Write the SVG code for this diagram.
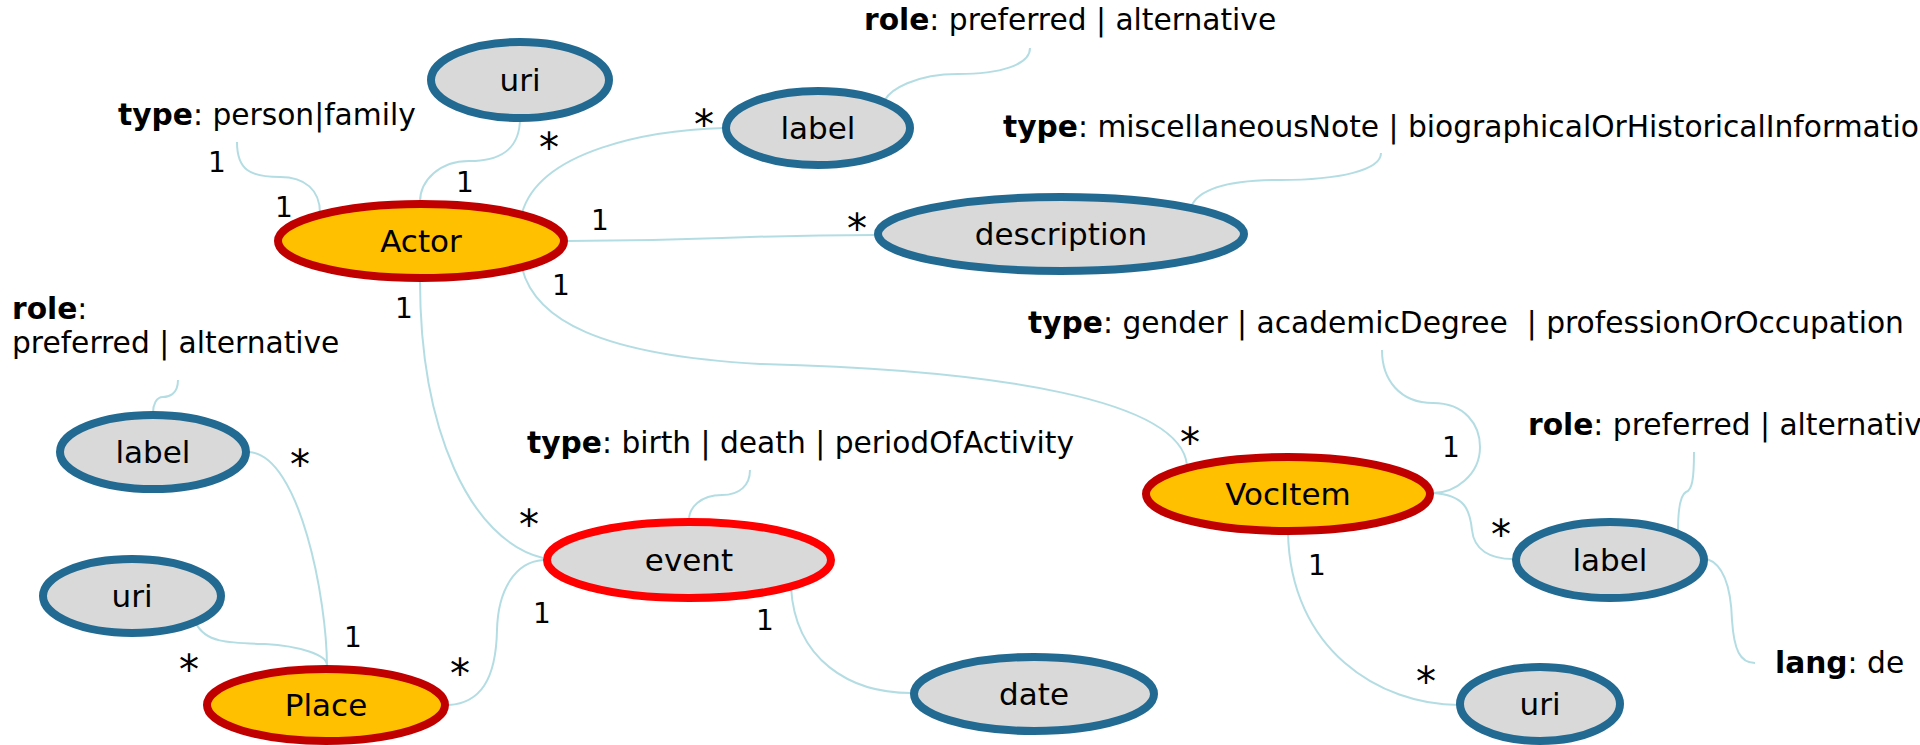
<svg xmlns="http://www.w3.org/2000/svg" width="1920" height="745" viewBox="0 0 1920 745">
<style>
.n ellipse{fill:#d9d9d9;stroke:#226a91;stroke-width:8}
.c ellipse{fill:#ffc000;stroke:#c00000;stroke-width:8}
.e ellipse{fill:#d9d9d9;stroke:#ff0000;stroke-width:8}
.nl{font-family:"DejaVu Sans",Verdana,sans-serif;font-size:31px;fill:#000;text-anchor:middle}
.a{font-family:"DejaVu Sans",Verdana,sans-serif;font-size:29.7px;fill:#000;white-space:pre}
.a tspan.b{font-weight:bold}
.m{font-family:"DejaVu Sans",Verdana,sans-serif;font-size:28px;fill:#000;text-anchor:middle}
.s{font-family:"DejaVu Sans",Verdana,sans-serif;font-size:40px;fill:#000;text-anchor:middle}
#connectors path{fill:none;stroke:#b4dde3;stroke-width:2}
</style>
<rect width="1920" height="745" fill="#fff"/>
<g id="connectors">
<path d="M237,142 C237,170 250,177 280,177 C305,177 320,190 320,213"/>
<path d="M520,118 C520,150 500,161 469,161 C440,161 420,180 420,202"/>
<path d="M522,213 C540,150 650,130 724,128"/>
<path d="M1030,48 C1030,65 1000,74 958,74 C915,74 890,90 885,100"/>
<path d="M568,241 C722,241 722,235 877,235"/>
<path d="M1191,207 C1200,185 1240,180 1280,180 C1340,180 1381,170 1381,153"/>
<path d="M522,268 C535,320 600,355 760,364 C1000,370 1180,400 1187,465"/>
<path d="M420,280 C420,430 470,540 543,558"/>
<path d="M178,380 C178,395 168,397 163,397 C156,397 153,405 153,413"/>
<path d="M249,452 C300,455 327,600 327,667"/>
<path d="M196,623 C205,643 230,643 265,644 C300,646 327,655 327,665"/>
<path d="M449,705 C480,703 496,680 497,630 C498,590 515,562 543,560"/>
<path d="M750,470 C750,485 740,495 722,495 C700,495 689,508 689,520"/>
<path d="M791,587 C795,660 850,693 911,693"/>
<path d="M1382,350 C1382,380 1400,403 1433,403 C1465,403 1480,425 1480,447 C1480,475 1455,493 1433,493"/>
<path d="M1433,493 C1465,495 1470,510 1472,530 C1474,550 1490,559 1513,559"/>
<path d="M1694,452 C1694,480 1692,490 1686,492 C1680,495 1678,510 1678,532"/>
<path d="M1707,559 C1725,565 1731,590 1732,620 C1734,650 1740,663 1755,663"/>
<path d="M1288,532 C1290,650 1380,705 1459,705"/>
</g>
<g id="uri-actor" class="n"><ellipse cx="520" cy="80" rx="89" ry="38"/><text class="nl" x="520" y="91">uri</text></g>
<g id="actor" class="c"><ellipse cx="421" cy="241" rx="143" ry="37"/><text class="nl" x="421" y="252">Actor</text></g>
<g id="label-actor" class="n"><ellipse cx="818" cy="128" rx="92" ry="37"/><text class="nl" x="818" y="139">label</text></g>
<g id="description" class="n"><ellipse cx="1061" cy="234" rx="183" ry="37"/><text class="nl" x="1061" y="245">description</text></g>
<g id="label-place" class="n"><ellipse cx="153" cy="452" rx="93" ry="37"/><text class="nl" x="153" y="463">label</text></g>
<g id="uri-place" class="n"><ellipse cx="132" cy="596" rx="89" ry="37"/><text class="nl" x="132" y="607">uri</text></g>
<g id="place" class="c"><ellipse cx="326" cy="705" rx="119" ry="36"/><text class="nl" x="326" y="716">Place</text></g>
<g id="event" class="e"><ellipse cx="689" cy="560" rx="142" ry="38"/><text class="nl" x="689" y="571">event</text></g>
<g id="date" class="n"><ellipse cx="1034" cy="694" rx="120" ry="37"/><text class="nl" x="1034" y="705">date</text></g>
<g id="vocitem" class="c"><ellipse cx="1288" cy="494" rx="142" ry="37"/><text class="nl" x="1288" y="505">VocItem</text></g>
<g id="label-voc" class="n"><ellipse cx="1610" cy="560" rx="94" ry="38"/><text class="nl" x="1610" y="571">label</text></g>
<g id="uri-voc" class="n"><ellipse cx="1540" cy="704" rx="80" ry="37"/><text class="nl" x="1540" y="715">uri</text></g>
<g id="annotations">
<text class="a" x="118" y="125"><tspan class="b">type</tspan>: person|family</text>
<text class="a" x="864" y="30"><tspan class="b">role</tspan>: preferred | alternative</text>
<text class="a" x="1003" y="137"><tspan class="b">type</tspan>: miscellaneousNote | biographicalOrHistoricalInformation</text>
<text class="a" x="12" y="319"><tspan class="b">role</tspan>:</text>
<text class="a" x="12" y="353">preferred | alternative</text>
<text class="a" x="527" y="453"><tspan class="b">type</tspan>: birth | death | periodOfActivity</text>
<text class="a" x="1028" y="333"><tspan class="b">type</tspan>: gender | academicDegree  | professionOrOccupation</text>
<text class="a" x="1528" y="435"><tspan class="b">role</tspan>: preferred | alternative</text>
<text class="a" x="1775" y="673"><tspan class="b">lang</tspan>: de</text>
</g>
<g id="multiplicities">
<text class="m" x="217" y="172">1</text>
<text class="m" x="284" y="217">1</text>
<text class="s" x="549" y="162">*</text>
<text class="m" x="465" y="192">1</text>
<text class="m" x="600" y="230">1</text>
<text class="m" x="561" y="295">1</text>
<text class="s" x="704" y="139">*</text>
<text class="s" x="857" y="243">*</text>
<text class="m" x="404" y="318">1</text>
<text class="s" x="300" y="479">*</text>
<text class="s" x="189" y="684">*</text>
<text class="m" x="353" y="647">1</text>
<text class="s" x="460" y="688">*</text>
<text class="s" x="529" y="539">*</text>
<text class="m" x="542" y="623">1</text>
<text class="m" x="765" y="630">1</text>
<text class="s" x="1190" y="457">*</text>
<text class="m" x="1451" y="457">1</text>
<text class="s" x="1501" y="549">*</text>
<text class="m" x="1317" y="575">1</text>
<text class="s" x="1426" y="696">*</text>
</g>
</svg>
